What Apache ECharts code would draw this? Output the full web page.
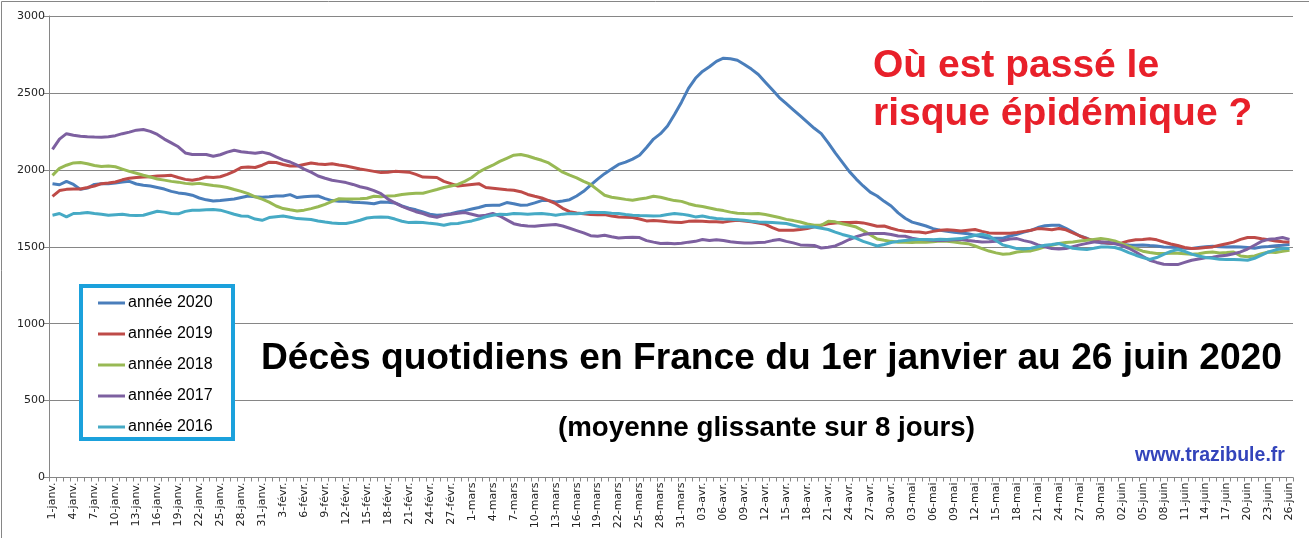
<!DOCTYPE html>
<html>
<head>
<meta charset="utf-8">
<script src="https://cdn.jsdelivr.net/npm/echarts@6/dist/echarts.min.js"></script>
<style>
html,body{margin:0;padding:0;background:#fff;}
#chart{width:1309px;height:538px;}
</style>
</head>
<body>
<div id="chart"></div>
<script>
// Category labels: 1 Jan – 26 Jun 2020 (every day)
const months = [['janv.',31],['févr.',29],['mars',31],['avr.',30],['mai',31],['juin',26]];
const categories = [];
months.forEach(function(m, mi){
  for (let d = 1; d <= m[1]; d++) {
    const dd = (mi >= 3 && d < 10) ? ('0' + d) : String(d);
    categories.push(dd + '-' + m[0]);
  }
});

const yTicks = [0, 500, 1000, 1500, 2000, 2500, 3000];

const annee2020 = [
1910,1903,1925,1905,1873,1881,1905,1910,1910,1915,1921,1925,1908,1900,1895,1885,1875,1860,1850,1845,
1835,1817,1805,1798,1800,1805,1810,1820,1830,1825,1822,1825,1830,1830,1839,1820,1825,1828,1830,1813,
1800,1796,1796,1790,1787,1785,1780,1791,1790,1785,1765,1750,1740,1726,1712,1705,1708,1715,1726,1735,
1745,1755,1768,1770,1770,1787,1780,1770,1772,1785,1800,1800,1791,1798,1806,1830,1860,1900,1940,1975,
2005,2035,2050,2070,2095,2145,2200,2235,2285,2360,2440,2530,2595,2640,2670,2705,2726,2722,2712,2685,
2655,2620,2570,2520,2470,2430,2390,2350,2310,2270,2235,2175,2110,2050,1990,1940,1895,1855,1830,1795,
1765,1720,1685,1660,1648,1635,1618,1607,1600,1595,1590,1585,1575,1565,1555,1555,1555,1570,1581,1595,
1607,1625,1636,1640,1640,1620,1596,1570,1555,1535,1525,1522,1521,1515,1512,1510,1512,1508,1505,1499,
1497,1495,1490,1488,1495,1500,1503,1500,1499,1500,1499,1495,1490,1498,1502,1507,1510,1515];

const annee2019 = [
1828,1865,1873,1875,1876,1885,1895,1910,1915,1921,1935,1945,1950,1953,1955,1960,1962,1964,1950,1938,
1932,1940,1953,1950,1955,1970,1990,2015,2018,2015,2030,2050,2048,2035,2025,2025,2035,2044,2038,2034,
2040,2032,2025,2015,2005,1998,1990,1982,1985,1990,1988,1985,1970,1953,1952,1950,1925,1910,1895,1900,
1905,1910,1885,1880,1875,1870,1867,1858,1840,1828,1817,1800,1780,1750,1728,1720,1715,1709,1708,1709,
1700,1694,1692,1690,1680,1668,1670,1668,1662,1660,1658,1665,1668,1665,1662,1662,1660,1668,1672,1668,
1662,1655,1646,1625,1607,1607,1608,1612,1618,1630,1640,1650,1655,1657,1657,1660,1655,1645,1633,1635,
1620,1608,1601,1598,1596,1590,1600,1607,1610,1607,1603,1608,1612,1600,1590,1588,1587,1588,1592,1600,
1607,1618,1615,1610,1618,1610,1590,1570,1553,1540,1531,1525,1521,1525,1538,1545,1547,1552,1545,1531,
1518,1508,1495,1488,1490,1495,1499,1510,1520,1530,1548,1560,1560,1552,1545,1538,1533,1531];

const annee2018 = [
1964,2010,2030,2045,2047,2040,2028,2022,2025,2020,2005,1990,1978,1965,1953,1940,1933,1925,1920,1912,
1908,1912,1905,1898,1893,1885,1872,1860,1845,1825,1810,1790,1765,1748,1740,1733,1738,1748,1760,1775,
1795,1812,1810,1810,1812,1815,1828,1825,1830,1832,1840,1845,1847,1848,1860,1872,1885,1895,1905,1925,
1950,1985,2010,2030,2055,2075,2095,2100,2090,2075,2062,2045,2015,1985,1965,1948,1925,1905,1870,1835,
1822,1815,1808,1802,1810,1817,1828,1822,1810,1800,1795,1780,1768,1762,1752,1742,1735,1725,1718,1716,
1715,1716,1710,1700,1690,1678,1670,1661,1648,1640,1640,1665,1662,1650,1640,1628,1605,1578,1550,1542,
1535,1530,1530,1528,1531,1530,1532,1538,1536,1531,1525,1520,1505,1488,1472,1460,1451,1455,1466,1470,
1473,1485,1499,1510,1521,1528,1531,1538,1542,1548,1553,1548,1538,1520,1503,1488,1471,1462,1456,1456,
1457,1458,1455,1451,1455,1463,1466,1460,1462,1466,1440,1435,1440,1455,1466,1462,1470,1477];

const annee2017 = [
2133,2200,2235,2225,2218,2215,2213,2212,2215,2222,2235,2245,2258,2262,2250,2230,2200,2175,2150,2110,
2100,2100,2100,2088,2098,2115,2127,2118,2112,2108,2115,2105,2085,2065,2051,2030,2005,1985,1960,1945,
1932,1925,1917,1905,1890,1880,1865,1845,1810,1785,1762,1745,1728,1716,1700,1692,1705,1711,1718,1722,
1711,1700,1705,1716,1700,1675,1650,1640,1635,1633,1638,1642,1645,1635,1620,1605,1590,1572,1568,1575,
1565,1557,1560,1562,1560,1540,1530,1521,1522,1520,1523,1530,1535,1547,1540,1545,1540,1532,1528,1524,
1524,1528,1530,1540,1547,1535,1525,1512,1510,1508,1492,1497,1505,1525,1547,1565,1579,1586,1586,1586,
1580,1570,1568,1555,1547,1545,1542,1540,1542,1545,1547,1540,1535,1531,1532,1535,1540,1550,1553,1540,
1530,1512,1500,1488,1486,1488,1500,1512,1522,1531,1531,1530,1520,1508,1490,1466,1438,1412,1398,1386,
1385,1384,1398,1412,1420,1428,1432,1440,1445,1455,1466,1485,1510,1535,1548,1552,1560,1548];

const annee2016 = [
1705,1716,1694,1716,1718,1722,1716,1711,1705,1708,1711,1705,1703,1705,1718,1731,1725,1716,1714,1730,
1737,1737,1740,1742,1738,1725,1711,1700,1698,1680,1672,1690,1695,1700,1692,1683,1680,1677,1668,1661,
1655,1651,1651,1660,1672,1687,1692,1694,1692,1680,1666,1657,1660,1658,1652,1648,1640,1650,1651,1660,
1668,1680,1695,1705,1711,1710,1716,1714,1712,1715,1716,1712,1705,1712,1716,1715,1718,1724,1722,1722,
1718,1716,1710,1705,1703,1702,1700,1702,1710,1716,1712,1705,1694,1700,1690,1683,1680,1678,1675,1672,
1666,1661,1660,1658,1655,1651,1640,1629,1630,1628,1620,1612,1595,1580,1568,1555,1535,1520,1505,1515,
1528,1535,1540,1545,1547,1547,1545,1548,1547,1550,1553,1562,1575,1581,1570,1540,1512,1500,1488,1486,
1490,1500,1510,1515,1521,1505,1490,1485,1482,1490,1499,1499,1495,1482,1462,1445,1430,1417,1430,1451,
1470,1482,1470,1452,1440,1430,1425,1418,1417,1417,1415,1412,1425,1445,1466,1480,1488,1488];

const seriesNames = ['année 2020','année 2019','année 2018','année 2017','année 2016'];
const seriesData = [annee2020, annee2019, annee2018, annee2017, annee2016];
const colors = ['#4A7EBB','#BE4B48','#98B954','#7D60A0','#46AAC5'];

const chart = echarts.init(document.getElementById('chart'), null, {renderer:'canvas'});
const gridColor = '#868686';

const option = {
  animation: false,
  backgroundColor: '#ffffff',
  color: colors,
  grid: {left: 49, right: 16, top: 16, bottom: 60.5, containLabel: false},
  legend: {
    orient: 'vertical',
    left: 93, top: 290,
    icon: 'rect',
    itemWidth: 27, itemHeight: 3,
    itemGap: 15,
    z: 20,
    itemStyle: {borderWidth: 0},
    textStyle: {fontFamily: 'Liberation Sans', fontSize: 16, color: '#000', lineHeight: 16, padding: [0,0,0,-2]},
    data: seriesNames
  },
  xAxis: {
    type: 'category',
    data: categories,
    boundaryGap: true,
    axisLine: {lineStyle: {color: gridColor, width: 1}},
    axisTick: {show: true, interval: 0, length: 4, lineStyle: {color: gridColor}},
    axisLabel: {interval: 2, rotate: 90, fontFamily: 'DejaVu Sans', fontSize: 11, color: '#222', margin: 5},
    splitLine: {show: false}
  },
  yAxis: {
    type: 'value',
    min: yTicks[0], max: yTicks[yTicks.length-1], interval: 500,
    axisLine: {show: true, lineStyle: {color: gridColor, width: 1}},
    axisTick: {show: true, length: 5, lineStyle: {color: gridColor}},
    axisLabel: {fontFamily: 'DejaVu Sans', fontSize: 11, color: '#222', margin: 4,
      formatter: function(v){ return String(v); }},
    splitLine: {show: true, lineStyle: {color: gridColor, width: 1}}
  },
  series: seriesNames.map(function(n, i){
    return {
      name: n, type: 'line', data: seriesData[i],
      showSymbol: false, symbol: 'none', legendIcon: 'rect',
      lineStyle: {width: 3, color: colors[i]},
      z: 2 + i
    };
  }),
  graphic: [
    {type:'rect', shape:{x:1.5, y:1.5, width:1320, height:550}, style:{fill:'none', stroke:gridColor, lineWidth:1}, silent:true, z:0},
    {type:'rect', shape:{x:81, y:286, width:152, height:153}, style:{fill:'#fff', stroke:'#1BA1DC', lineWidth:4}, z:1, zlevel:0},
    {type:'text', left: 261, top: 340, style:{text:'Décès quotidiens en France du 1er janvier au 26 juin 2020', fontFamily:'Liberation Sans', fontWeight:'bold', fontSize:37.2, fill:'#000'}, z:10},
    {type:'text', left: 558, top: 414, style:{text:'(moyenne glissante sur 8 jours)', fontFamily:'Liberation Sans', fontWeight:'bold', fontSize:27.7, fill:'#000'}, z:10},
    {type:'text', left: 1135, top: 446, style:{text:'www.trazibule.fr', fontFamily:'Liberation Sans', fontWeight:'bold', fontSize:19.5, fill:'#3344BB'}, z:10},
    {type:'text', left: 873, top: 47, style:{text:'Où est passé le', fontFamily:'Liberation Sans', fontWeight:'bold', fontSize:39, fill:'#E8202A'}, z:10},
    {type:'text', left: 873, top: 95, style:{text:'risque épidémique ?', fontFamily:'Liberation Sans', fontWeight:'bold', fontSize:39, fill:'#E8202A'}, z:10}
  ]
};
chart.setOption(option);
</script>
</body>
</html>
